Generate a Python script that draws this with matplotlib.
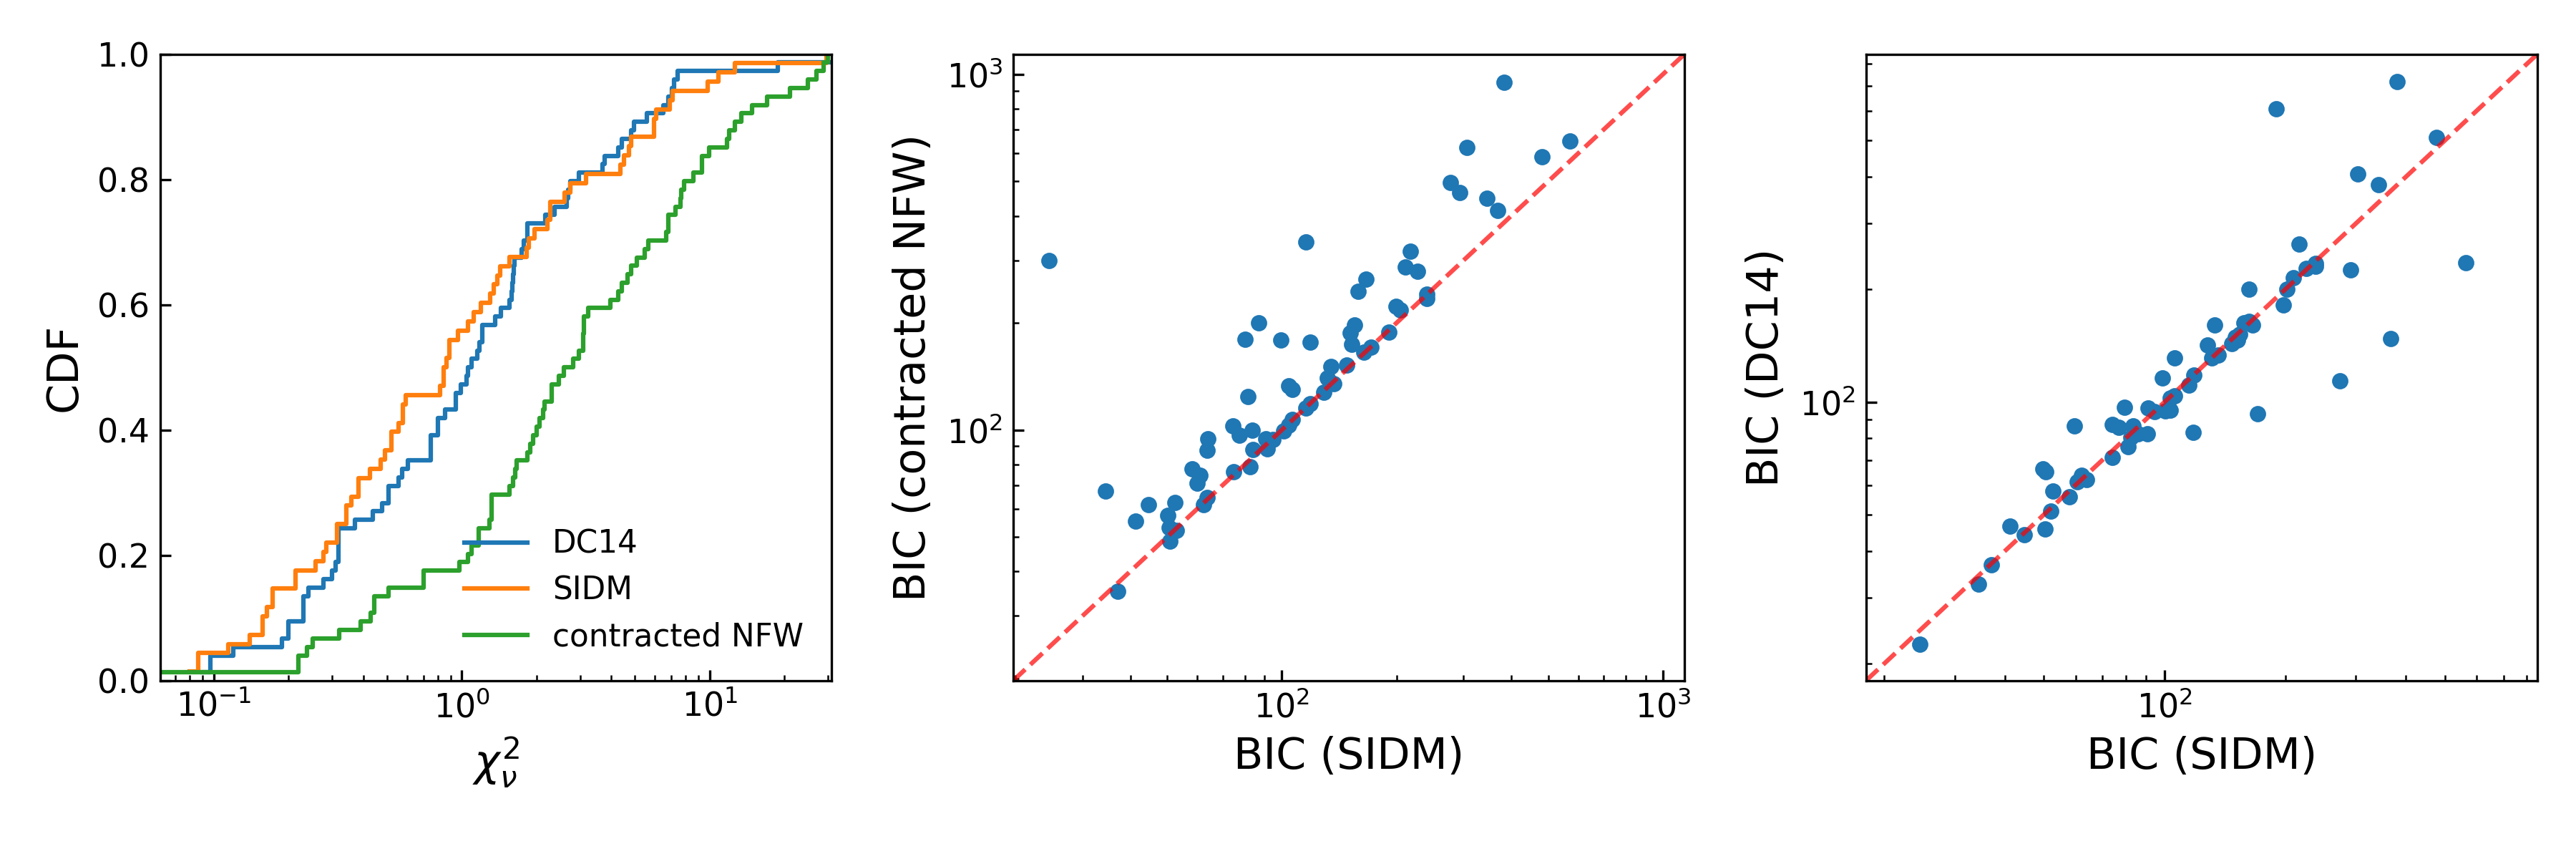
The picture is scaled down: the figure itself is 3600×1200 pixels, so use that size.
import numpy as np
import matplotlib
matplotlib.use("Agg")
import matplotlib.pyplot as plt

# reduced chi^2 of the rotation curve fits, one value per galaxy
chi2_dc14 = [0.090, 0.0967, 0.0967, 0.1194, 0.188, 0.200, 0.200, 0.230, 0.230, 0.230,
             0.240, 0.277, 0.300, 0.310, 0.317, 0.317, 0.317, 0.317, 0.370, 0.437,
             0.478, 0.505, 0.505, 0.556, 0.574, 0.607, 0.749, 0.749, 0.749, 0.801,
             0.801, 0.857, 0.946, 0.946, 0.989, 1.045, 1.057, 1.093, 1.155, 1.181,
             1.207, 1.207, 1.364, 1.442, 1.559, 1.59, 1.60, 1.61, 1.62, 1.63,
             1.74, 1.78, 1.84, 1.84, 2.17, 2.37, 2.65, 2.68, 2.74, 2.96,
             3.70, 3.78, 4.28, 4.42, 4.83, 4.94, 5.58, 6.52, 6.81, 7.04,
             7.20, 7.45, 18.9, 40.0]
chi2_sidm = [0.080, 0.0865, 0.0865, 0.114, 0.139, 0.157, 0.157, 0.163, 0.172, 0.172,
             0.214, 0.214, 0.257, 0.276, 0.284, 0.313, 0.313, 0.341, 0.341, 0.358,
             0.383, 0.383, 0.426, 0.472, 0.491, 0.520, 0.520, 0.556, 0.577, 0.577,
             0.594, 0.819, 0.847, 0.847, 0.866, 0.889, 0.889, 0.967, 1.057, 1.117,
             1.194, 1.305, 1.349, 1.394, 1.426, 1.559, 1.833, 1.861, 1.968, 2.222,
             2.272, 2.272, 2.595, 2.743, 3.17, 4.37, 4.52, 4.72, 4.83, 5.96,
             5.96, 6.10, 6.89, 7.09, 9.82, 10.86, 12.68, 29.6]
chi2_cnfw = [0.050, 0.219, 0.219, 0.238, 0.251, 0.321, 0.391, 0.430, 0.442, 0.442,
             0.505, 0.701, 0.701, 0.978, 1.057, 1.093, 1.168, 1.168, 1.29, 1.32,
             1.32, 1.32, 1.559, 1.61, 1.647, 1.665, 1.84, 1.89, 1.945, 2.00,
             2.065, 2.126, 2.16, 2.31, 2.31, 2.47, 2.58, 2.82, 2.96, 3.08,
             3.09, 3.10, 3.11, 3.24, 3.99, 4.28, 4.42, 4.67, 4.83, 5.10,
             5.46, 5.64, 6.66, 6.81, 6.81, 7.28, 7.61, 7.69, 7.87, 8.60,
             9.29, 9.29, 9.93, 11.73, 11.99, 12.68, 13.40, 14.81, 17.10, 21.1,
             24.9, 26.96, 28.8, 30.1]

# BIC: SIDM vs contracted NFW
bic_sidm_a = [24.5, 34.4, 37.1, 41.3, 44.7, 50.2, 50.7, 50.9, 52.4, 52.8,
              58.1, 60.0, 61.0, 62.3, 63.7, 63.7, 63.9, 74.5, 74.7, 77.5,
              80.1, 81.4, 82.5, 83.6, 83.9, 87.0, 90.8, 91.7, 94.8, 99.3,
              101.0, 104.1, 104.4, 106.5, 106.5, 115.7, 115.7, 118.8, 118.8, 128.6,
              131.6, 134.3, 137.0, 147.8, 151.3, 152.8, 154.9, 158.5, 163.8, 166.6,
              171.6, 190.8, 199.2, 204.6, 210.7, 217.8, 226.7, 239.8, 240.6, 277.4,
              292.5, 305.4, 345.2, 368.8, 383.9, 480.8, 569.4]
bic_cnfw = [300.0, 67.3, 35.2, 55.5, 61.5, 57.5, 53.2, 48.6, 62.6, 52.1,
            77.8, 70.9, 74.5, 61.5, 64.5, 87.7, 94.5, 102.5, 76.1, 96.5,
            179.4, 124.1, 78.9, 99.7, 88.0, 200.2, 94.2, 88.6, 93.8, 178.8,
            99.3, 133.2, 103.2, 130.0, 107.0, 337.1, 115.2, 118.6, 176.3, 127.7,
            140.0, 150.8, 134.6, 151.9, 187.2, 173.8, 197.4, 245.1, 165.4, 265.0,
            170.7, 188.5, 222.7, 217.2, 287.3, 318.5, 279.3, 234.0, 240.7, 495.8,
            465.4, 622.1, 447.5, 414.0, 951.7, 585.8, 649.2]

# BIC: SIDM vs DC14
bic_sidm_b = [24.5, 34.3, 37.0, 41.2, 44.7, 49.8, 50.6, 50.3, 52.1, 52.6,
              57.9, 59.6, 60.7, 62.1, 63.9, 74.0, 74.0, 76.8, 79.3, 81.0,
              82.6, 83.4, 85.8, 90.7, 91.0, 94.5, 98.8, 100.3, 103.5, 103.5,
              106.1, 106.1, 114.8, 117.7, 118.1, 128.1, 131.0, 133.4, 136.0, 147.1,
              150.4, 152.3, 154.2, 157.6, 162.1, 162.1, 165.7, 170.4, 189.6, 197.5,
              202.0, 209.7, 216.3, 225.4, 237.7, 237.7, 273.7, 290.5, 303.6, 341.0,
              366.4, 380.5, 475.5, 563.3]
bic_dc14 = [22.5, 32.6, 36.8, 46.5, 44.2, 66.2, 65.1, 45.7, 51.1, 57.7,
            55.8, 86.2, 61.3, 63.8, 62.1, 87.1, 71.1, 85.6, 96.7, 76.1,
            80.6, 86.5, 82.2, 82.2, 96.4, 94.4, 116.0, 94.7, 95.1, 102.7,
            103.8, 131.0, 111.0, 83.1, 118.0, 142.1, 131.0, 160.4, 133.2, 143.5,
            148.9, 146.5, 151.5, 162.6, 164.3, 200.5, 160.4, 93.2, 606.7, 181.8,
            200.5, 214.5, 263.6, 227.1, 230.2, 235.0, 114.1, 225.6, 407.4, 380.7,
            148.0, 718.4, 509.0, 235.7]

fs_tick = 11
fs_leg = 10.5
fs_lab = 14.5

fig, axs = plt.subplots(1, 3, figsize=(12, 4), dpi=300)
fig.subplots_adjust(left=0.0622, right=0.985, bottom=0.2075, top=0.937, wspace=0.27)

# ---- CDF del chi2 reducido
ax = axs[0]
for vals, lab in [(chi2_dc14, 'DC14'), (chi2_sidm, 'SIDM'), (chi2_cnfw, 'contracted NFW')]:
    x = np.sort(vals)
    y = np.arange(1, len(x) + 1) / len(x)
    ax.step(x, y, where='post', label=lab)
ax.set_xscale('log')
ax.set_xlim(0.0607, 31.1)
ax.set_ylim(0, 1)
ax.set_yticks(np.arange(0, 1.01, 0.2))
ax.set_xlabel(r'$\chi^2_\nu$', fontsize=fs_lab)
ax.set_ylabel('CDF', fontsize=fs_lab)
ax.legend(loc='lower right', frameon=False, fontsize=fs_leg)

# ---- BIC comparisons
lims2 = [19.7, 1140]
ax = axs[1]
ax.scatter(bic_sidm_a, bic_cnfw, s=20)
ax.plot(lims2, lims2, 'r--', alpha=0.7)
ax.set_xscale('log')
ax.set_yscale('log')
ax.set_xlim(lims2)
ax.set_ylim(lims2)
ax.set_xlabel('BIC (SIDM)', fontsize=fs_lab)
ax.set_ylabel('BIC (contracted NFW)', fontsize=fs_lab)

lims3 = [18.0, 850]
ax = axs[2]
ax.scatter(bic_sidm_b, bic_dc14, s=20)
ax.plot(lims3, lims3, 'r--', alpha=0.7)
ax.set_xscale('log')
ax.set_yscale('log')
ax.set_xlim(lims3)
ax.set_ylim(lims3)
ax.set_xlabel('BIC (SIDM)', fontsize=fs_lab)
ax.set_ylabel('BIC (DC14)', fontsize=fs_lab)

for ax in axs:
    ax.tick_params(which='both', direction='in', labelsize=fs_tick)

fig.savefig('out.png', dpi=300)
